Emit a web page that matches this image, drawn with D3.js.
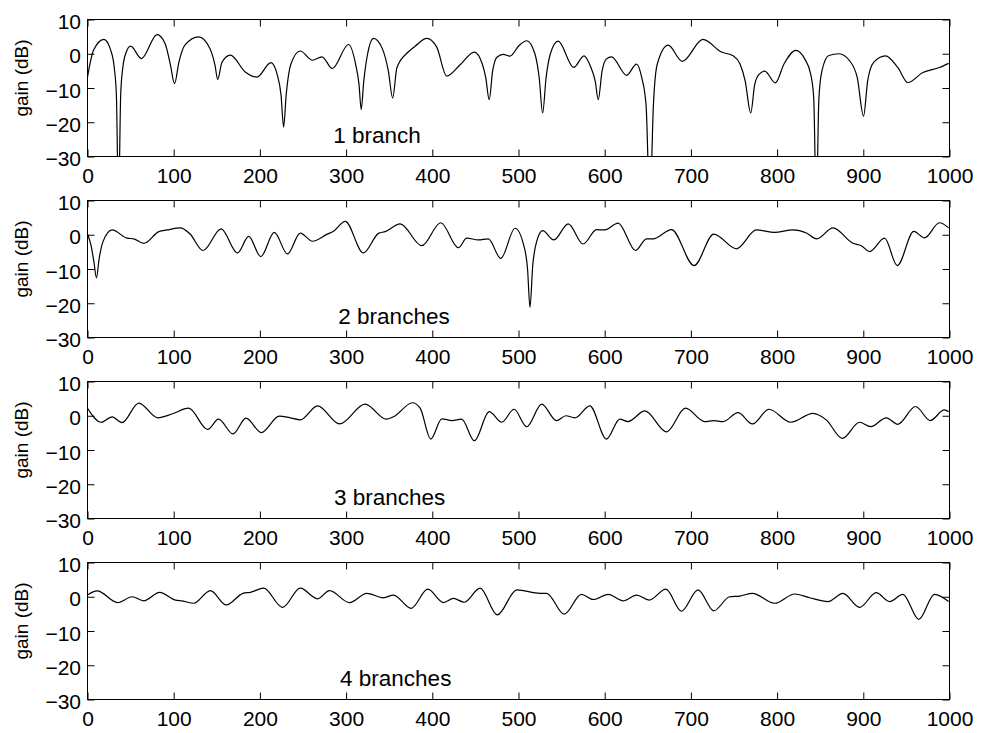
<!DOCTYPE html>
<html>
<head>
<meta charset="utf-8">
<script src="https://cdn.jsdelivr.net/npm/d3@7"></script>
<style>
  body { margin: 0; background: #fff; }
  svg { display: block; font-family: "Liberation Sans", Arial, Helvetica, sans-serif; }
</style>
</head>
<body>
<svg id="canvas"></svg>
<script>
// tick values shared by all four panels
const xTicks = [0, 100, 200, 300, 400, 500, 600, 700, 800, 900, 1000];
const yTicks = [10, 0, -10, -20, -30];

// gain (dB), [sample, dB]
const gain1 = [
  [0,-6.8],[7,1],[19,4.2],[27,1],[31,-4],[33.5,-12],[36,-45],[38.5,-12],[41,-4],[45,0.5],
  [50,2.2],[62.6,-1.4],[80.7,5.6],[90,3],[96,-3],[101,-8.7],[106,-2.5],[113,2.5],[129,4.9],
  [142,1.5],[148,-3.5],[151,-7.5],[156,-2.5],[165.7,-0.4],[183,-5.3],[196.6,-6.8],[212.8,-2.6],
  [220,-6],[224.5,-12],[227.5,-21.4],[230.5,-12],[236,-3],[246.8,0.8],[261,-1.9],[272,-0.9],
  [284,-4.3],[302.8,2.7],[311,-3],[315,-9],[317.5,-16.3],[320.5,-8],[325,0],[331.8,4.5],
  [342,1.5],[349,-5],[354,-12.9],[359,-4],[372,0.5],[380,2.2],[393.6,4.5],[405,2],[416.8,-6.5],
  [432,-3.3],[448.8,0.5],[458,-3],[462,-7],[466,-13.4],[470,-5],[475,-1],[482.4,-0.2],[490,-0.7],
  [501,2.5],[509.5,3.8],[519,0],[524,-7],[528,-17.3],[532,-7],[537,0],[546,3.7],[564,-4],
  [576,-0.6],[584,-4],[589,-8],[592.5,-13.4],[597,-5],[602,-1.5],[608,-0.9],[625.4,-6.3],
  [637,-3],[643,-7],[648,-15],[652.4,-45],[656.5,-15],[661,-3],[673.6,2.5],[690,-2.2],[714,4.2],
  [735.4,0.5],[749,-0.6],[757,-3],[763,-8],[769.4,-17.3],[774,-9],[779,-6],[785.6,-5.1],
  [798,-8.5],[808,-3],[821.6,1],[832,-1.5],[839,-6],[842.5,-13],[845.5,-45],[848.5,-13],
  [852,-5],[860,-0.5],[871.8,0],[884,-2],[893,-7],[900.3,-18.2],[905,-8],[912,-2.5],
  [925.8,-0.6],[940,-4],[951.7,-8.4],[969,-5.5],[988.4,-4],[999,-2.8]
];
const gain2 = [
  [0,0.2],[4,-3],[7.5,-8],[10.4,-12.6],[13.5,-7],[18,-2],[28.6,1.4],[46,-1],[53.7,-1.2],
  [65.3,-2.5],[82.7,0.9],[92.3,1.4],[107.8,2],[119,0.2],[134,-4.6],[155,1.7],[174,-5.3],
  [187,-0.5],[201,-6.4],[216.7,0.7],[232,-5.6],[246.8,0.5],[261,-1.9],[277.7,0.1],[285.4,1],
  [299,3.9],[320,-5.3],[337.6,0.4],[345.3,0.9],[362.7,3.2],[387.8,-3.2],[409.8,3.5],[430.3,-3.8],
  [440,-1],[453.4,-1.5],[465,-1.2],[479.4,-6.9],[496,1.9],[506,-3],[510.5,-10],[513.3,-21.2],
  [516.5,-9],[521,-2],[528,1.2],[541,-1.5],[557.7,3.2],[575,-2.7],[590.6,1.5],[600,1.4],
  [615.6,3.4],[635.8,-4.6],[648.5,-1.2],[656,-1.2],[677.5,1.5],[703.7,-9],[726.5,0.2],
  [752.8,-4.1],[776,1.4],[797,0.7],[818.4,1.4],[834,0.5],[846,-1.2],[864.8,2],[888,-2.5],
  [897.7,-3.2],[907.3,-4.9],[924.7,-1],[939.4,-9],[958.6,1],[971,-0.9],[988.4,3.5],[999,2]
];
const gain3 = [
  [0,2.2],[15.8,-1.9],[28.6,-0.3],[40,-2],[59.5,3.7],[81.5,-0.6],[98,0.5],[117.4,2.2],
  [139.4,-4],[152,-1],[168.8,-5.3],[183.9,-0.7],[201.6,-4.9],[222.5,-0.1],[235,-0.6],
  [246.8,-1.2],[266.9,2.9],[292.4,-2.4],[322,3.4],[346.5,-1],[355,-0.3],[377,3.8],[385.9,2.2],
  [398.2,-6.8],[411,-0.9],[422.6,-1.4],[434,-1],[448.8,-7.3],[466,1.2],[480.5,-1.9],[494.8,1.9],
  [509.5,-3.2],[526.9,3.4],[544,-1.4],[555,0],[565.5,-0.6],[582.8,2.9],[602,-6.8],[617.6,-1],
  [627,-1.7],[646.6,1.4],[671.7,-4.7],[693.7,2.2],[716,-1.7],[726.5,-1.4],[737.2,-1.7],
  [754.7,0.9],[771.4,-2.4],[790.6,1.9],[815.8,-1.9],[841.6,0.7],[857,-1.2],[875.7,-6.6],
  [895.7,-1.9],[908.5,-3.2],[926.6,-0.6],[940,-2.5],[960.6,2.7],[977.6,-1.4],[994,1.7],[999,1.2]
];
const gain4 = [
  [0,0.5],[11.2,1.7],[35.1,-1.7],[51.8,0],[65.3,-1.2],[83.8,1.3],[102,-1],[109.7,-1.2],
  [123.2,-1.9],[142.5,1.8],[161,-2.4],[180.4,1],[188.9,1.3],[204.3,2.5],[226.3,-3.1],
  [246.8,2.5],[266.9,-0.6],[280.8,1.8],[304,-1.7],[324,1],[343.3,-0.3],[355,0.5],[375.4,-3.4],
  [394.8,2.2],[412.9,-1.7],[424.5,-0.5],[437.2,-1.6],[455.4,2.5],[475.4,-5.3],[498,2],
  [525,1],[532.7,1],[553,-5.1],[573,0.7],[586.7,-0.8],[604,0.7],[621.4,-1.2],[637,0.5],
  [651.6,-1],[671,2.2],[689,-4.2],[708.3,2],[726.5,-4.1],[745,0],[756.7,0.2],[771.4,1],
  [797,-1.9],[820.4,0.8],[837.8,-0.3],[859,-1.4],[876.4,1],[895.7,-3.1],[915,1.2],
  [930.5,-1.4],[945.9,0.7],[964.4,-6.6],[982.6,0.7],[999,-1.4]
];

const branchLabels = ['1 branch', '2 branches', '3 branches', '4 branches'];
const labelX = [285, 291, 286, 293];
const labelY = -26.2;

// layout
const width = 981;
const height = 733;
const left = 87.5;
const right = 949.5;
const firstTop = 19.5;
const panelStep = 181;
const panelHeight = 137;
const tickLen = 7;

let canvas = d3.select('#canvas')
  .attr('width', width)
  .attr('height', height);

let xScale = d3.scaleLinear().domain([0, 1000]).range([left, right]);
let fmt = d3.format('d');

let drawPanel = (series, i) => {
  let top = firstTop + i * panelStep;
  let bottom = top + panelHeight;
  let yScale = d3.scaleLinear().domain([-30, 10]).range([bottom, top]);
  let g = canvas.append('g');

  g.append('clipPath')
    .attr('id', 'clip' + i)
    .append('rect')
    .attr('x', left)
    .attr('y', top)
    .attr('width', right - left)
    .attr('height', panelHeight);

  let line = d3.line()
    .x(d => xScale(d[0]))
    .y(d => yScale(d[1]))
    .curve(d3.curveMonotoneX);

  g.append('path')
    .datum(series)
    .attr('clip-path', `url(#clip${i})`)
    .attr('d', line)
    .attr('fill', 'none')
    .attr('stroke', '#000')
    .attr('stroke-width', 1.2);

  // ticks on all four sides, pointing inward
  let xAxis = d3.axisBottom(xScale).tickValues(xTicks).tickFormat(fmt).tickSizeInner(-tickLen).tickSizeOuter(0).tickPadding(12);
  let xTop = d3.axisTop(xScale).tickValues(xTicks).tickSizeInner(-tickLen).tickSizeOuter(0).tickFormat('');
  let yAxis = d3.axisLeft(yScale).tickValues(yTicks).tickFormat(fmt).tickSizeInner(-tickLen).tickSizeOuter(0).tickPadding(6.5);
  let yRight = d3.axisRight(yScale).tickValues(yTicks).tickSizeInner(-tickLen).tickSizeOuter(0).tickFormat('');

  let axes = [
    g.append('g').attr('transform', `translate(0, ${bottom})`).call(xAxis),
    g.append('g').attr('transform', `translate(0, ${top})`).call(xTop),
    g.append('g').attr('transform', `translate(${left}, 0)`).call(yAxis),
    g.append('g').attr('transform', `translate(${right}, 0)`).call(yRight)
  ];
  axes.forEach(a => {
    a.select('.domain').remove();
    a.selectAll('line').attr('stroke', '#000').attr('stroke-width', 1);
    a.selectAll('text')
      .attr('fill', '#000')
      .style('font-size', '21px')
      .style('font-family', '"Liberation Sans", Arial, Helvetica, sans-serif');
  });
  axes[2].selectAll('text').attr('dy', '0.43em');

  g.append('rect')
    .attr('x', left)
    .attr('y', top)
    .attr('width', right - left)
    .attr('height', panelHeight)
    .attr('fill', 'none')
    .attr('stroke', '#000')
    .attr('stroke-width', 1);

  g.append('text')
    .attr('transform', `translate(28, ${top + panelHeight / 2 - 10}) rotate(-90)`)
    .attr('text-anchor', 'middle')
    .style('font-size', '19px')
    .text('gain (dB)');

  g.append('text')
    .attr('x', xScale(labelX[i]))
    .attr('y', yScale(labelY))
    .style('font-size', '22.5px')
    .text(branchLabels[i]);
};

[gain1, gain2, gain3, gain4].forEach(drawPanel);
</script>
</body>
</html>
